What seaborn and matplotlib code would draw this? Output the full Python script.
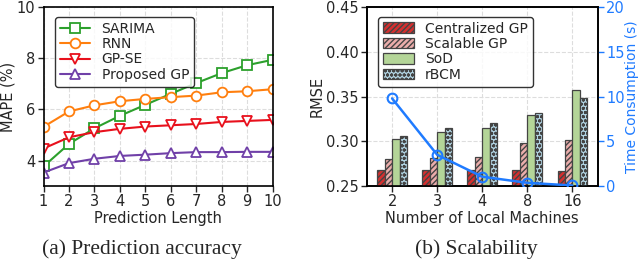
import numpy as np
import pandas as pd
import matplotlib
matplotlib.use("Agg")
import matplotlib.pyplot as plt
import seaborn as sns

# left panel: MAPE vs prediction length
pred_len = [1, 2, 3, 4, 5, 6, 7, 8, 9, 10]
sarima = [3.77, 4.65, 5.26, 5.75, 6.18, 6.61, 7.03, 7.42, 7.73, 7.94]
rnn = [5.32, 5.92, 6.16, 6.32, 6.41, 6.48, 6.54, 6.67, 6.71, 6.79]
gp_se = [4.47, 4.91, 5.11, 5.24, 5.33, 5.38, 5.43, 5.51, 5.55, 5.59]
proposed = [3.53, 3.90, 4.07, 4.18, 4.23, 4.29, 4.33, 4.33, 4.34, 4.34]

# right panel: RMSE and time vs number of machines
machines = ["2", "3", "4", "8", "16"]
central = [0.268, 0.268, 0.268, 0.268, 0.267]
scalable = [0.280, 0.281, 0.282, 0.298, 0.302]
sod = [0.303, 0.310, 0.315, 0.329, 0.357]
rbcm = [0.306, 0.315, 0.321, 0.332, 0.348]
time_s = [9.8, 3.5, 1.05, 0.37, 0.07]

sns.set_style("ticks")
plt.rcParams['font.family'] = ['DejaVu Sans']
plt.rcParams['hatch.linewidth'] = 1.0

fig = plt.figure(figsize=(6.4, 2.64), dpi=100)
ax1 = fig.add_axes([0.068, 0.295, 0.358, 0.678])
ax2 = fig.add_axes([0.573, 0.295, 0.361, 0.678])

# ---- left
series = [("SARIMA", sarima, "#2ca02c", "s"),
          ("RNN", rnn, "#ff7f0e", "o"),
          ("GP-SE", gp_se, "#e8101c", "v"),
          ("Proposed GP", proposed, "#7040a8", "^")]
for name, vals, col, m in series:
    sns.lineplot(x=pred_len, y=vals, color=col, marker=m, markersize=7,
                 markerfacecolor="white", markeredgecolor=col, markeredgewidth=1.3,
                 linewidth=1.5, linestyle="-", label=name, ax=ax1)
ax1.set_xlim(1, 10)
ax1.set_ylim(3, 10)
ax1.set_xticks(pred_len)
ax1.set_yticks([4, 6, 8, 10])
ax1.set_xlabel("Prediction Length", fontsize=10.5, labelpad=1)
ax1.set_ylabel("MAPE (%)", fontsize=10.5, labelpad=1)
ax1.grid(True, ls="--", color="#dddddd", lw=0.8)
leg = ax1.legend(loc="upper left", fontsize=10, frameon=True, fancybox=True,
                 edgecolor="black", handlelength=2.2, borderpad=0.35,
                 labelspacing=0.1, bbox_to_anchor=(0.02, 0.985))
leg.get_frame().set_linewidth(1.0)

# ---- right
labels = ["Centralized GP", "Scalable GP", "SoD", "rBCM"]
df2 = pd.DataFrame({
    "m": machines * 4,
    "rmse": central + scalable + sod + rbcm,
    "method": np.repeat(labels, len(machines)),
})
bar_cols = ["#f01414", "#f6a3a0", "#b3df8e", "#a9d6ea"]
hatches = ["//////", "//////", "", "oooo"]
sns.barplot(data=df2, x="m", y="rmse", hue="method", palette=bar_cols,
            width=0.66, edgecolor="#444444", linewidth=0.9, ax=ax2, zorder=3)
for cont, hh in zip(ax2.containers, hatches):
    for p in cont:
        p.set_hatch(hh)
ax2.set_ylim(0.25, 0.45)
ax2.set_yticks([0.25, 0.30, 0.35, 0.40, 0.45])
ax2.set_yticklabels(["0.25", "0.30", "0.35", "0.40", "0.45"])
ax2.set_xlabel("Number of Local Machines", fontsize=10.5, labelpad=1)
ax2.set_ylabel("RMSE", fontsize=10.5, labelpad=1)
ax2.grid(True, ls="--", color="#dddddd", lw=0.8)
ax2.set_axisbelow(True)
leg2 = ax2.legend(handles=list(ax2.containers), labels=labels, loc="upper left",
                  fontsize=10, frameon=True, fancybox=True, edgecolor="black",
                  handlelength=2.2, handleheight=0.8, borderpad=0.35,
                  labelspacing=0.1, bbox_to_anchor=(0.02, 0.985))
leg2.get_frame().set_linewidth(1.0)

blue = "#1f7bff"
ax3 = ax2.twinx()
ax3.plot(range(len(machines)), time_s, color=blue, marker="o", ms=7,
         mfc="none", mew=1.5, lw=1.8, zorder=5)
ax3.set_ylim(0, 20)
ax3.set_yticks([0, 5, 10, 15, 20])
ax3.set_ylabel("Time Consumption (s)", color=blue, fontsize=10, labelpad=0)
ax3.tick_params(axis="y", colors=blue)

for ax in (ax1, ax2, ax3):
    ax.tick_params(labelsize=10.5, length=4, width=1.0, pad=2)
    for s in ax.spines.values():
        s.set_linewidth(1.2)
        s.set_color("black")

fig.text(0.222, 0.055, "(a) Prediction accuracy", family="Liberation Serif",
         fontsize=15.5, ha="center", va="center")
fig.text(0.745, 0.055, "(b) Scalability", family="Liberation Serif",
         fontsize=15.5, ha="center", va="center")

fig.savefig("out.png", dpi=100)
